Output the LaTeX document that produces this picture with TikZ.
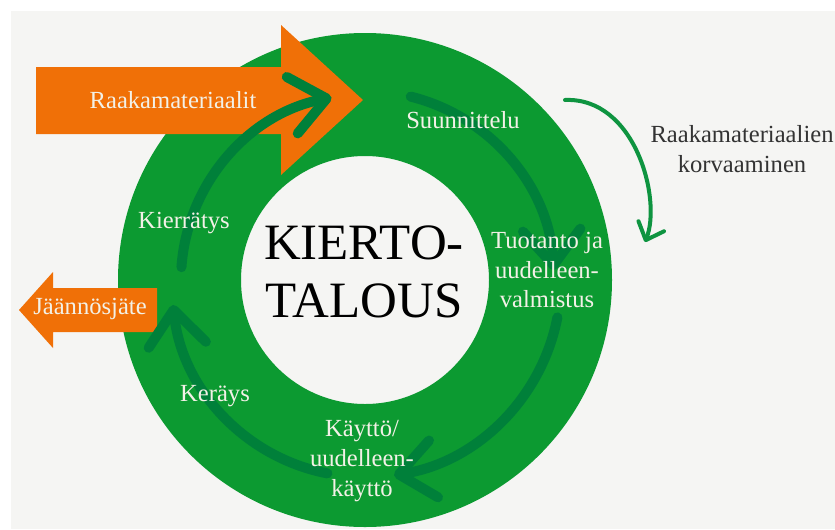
\documentclass[tikz,border=0pt]{standalone}
\usepackage{fontspec}
\setmainfont{Liberation Serif}
\usetikzlibrary{arrows.meta,positioning}
\definecolor{ringgreen}{HTML}{0C9A31}
\definecolor{darkgreen}{HTML}{00803A}
\definecolor{flowgreen}{HTML}{0E9440}
\definecolor{inputorange}{HTML}{F07007}
\definecolor{bggray}{HTML}{F5F5F3}
\definecolor{labelwhite}{HTML}{F3F1E7}
\definecolor{notegray}{HTML}{333333}
\tikzset{
  ringlabel/.style={
    text=labelwhite,
    font=\fontsize{14}{17}\selectfont,
    align=center,
    inner sep=0pt},
  notelabel/.style={ringlabel, text=notegray},
  titlelabel/.style={
    text=black,
    font=\fontsize{29}{33}\selectfont,
    align=center,
    inner sep=0pt},
  cyclearrow/.style={
    draw=darkgreen, line width=0.2cm, line cap=round,
    -{Straight Barb[length=0.7cm,width=1.15cm,round]}},
  subarrow/.style={
    draw=flowgreen, line width=0.08cm, line cap=round,
    -{Straight Barb[length=0.3cm,width=0.55cm,round]}},
  flowbox/.style={fill=inputorange},
}

\begin{document}
\begin{tikzpicture}[x=0.02cm,y=0.02cm]
  % page and background
  \fill[white] (0,0) rectangle (835,529);
  \useasboundingbox (0,0) rectangle (835,529);
  \fill[bggray] (11,0) rectangle (835,518);

  % the ring
  \coordinate (ring) at (365,249);
  \fill[ringgreen, even odd rule] (ring) circle[radius=247] (ring) circle[radius=124];

  % inputs and outputs
  \fill[flowbox] (36,462) -- (281,462) -- (281,504) -- (363,429)
    -- (281,354) -- (281,395) -- (36,395) -- cycle;
  \fill[flowbox] (157,241) -- (53,241) -- (53,257) -- (19,219)
    -- (53,181) -- (53,197) -- (157,197) -- cycle;

  % cycle arrows
  \draw[cyclearrow] (ring) ++(76:189) arc[start angle=76, end angle=3, radius=189];
  \draw[cyclearrow] (ring) ++(-11:196) arc[start angle=-11, end angle=-81, radius=198];
  \draw[cyclearrow] (ring) ++(-101:197) arc[start angle=-101, end angle=-174, radius=192];
  \draw[cyclearrow] (ring) ++(176:184) arc[start angle=176, end angle=101, radius=186];

  % labels
  \node[ringlabel] (raaka) at (173,429) {Raakamateriaalit};
  \node[ringlabel] (jaannos) at (90,220) {Jäännösjäte};
  \node[ringlabel] (suunn) at (463,409) {Suunnittelu};
  \node[ringlabel] (tuot) at (547,259) {Tuotanto ja\\uudelleen-\\valmistus};
  \node[ringlabel] (kaytto) at (362,68) {Käyttö/\\uudelleen-\\käyttö};
  \node[ringlabel] (keray) at (215,133) {Keräys};
  \node[ringlabel] (kierr) at (184,306) {Kierrätys};
  \node[titlelabel] (kierto) at (364,257) {KIERTO-\\TALOUS};
  \node[notelabel] (korv) at (742,380) {Raakamateriaalien\\korvaaminen};

  % substitution arrow
  \coordinate (korvS) at (565,429);
  \coordinate (korvE) at (645,287);
  \draw[subarrow] (korvS) .. controls (635,432) and (662,330) .. (korvE);
\end{tikzpicture}
\end{document}
